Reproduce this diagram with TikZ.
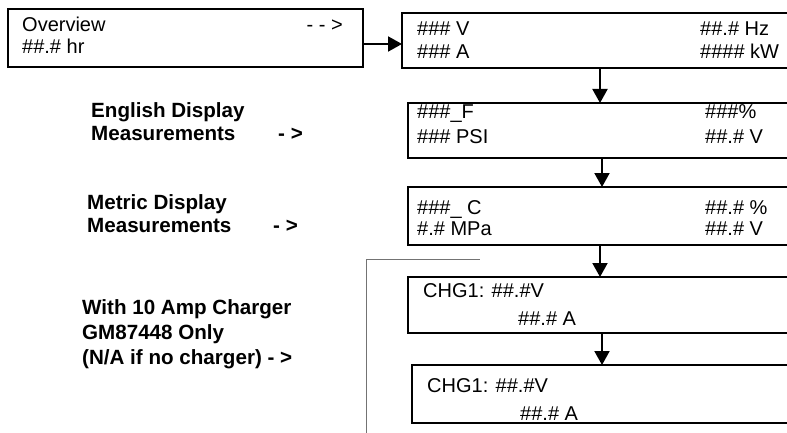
\documentclass[tikz,border=0pt]{standalone}
\usepackage{fontspec}
\setmainfont{Liberation Sans}
\usetikzlibrary{arrows.meta}
\tikzset{
  screen/.style={draw, line width=2pt, inner sep=0pt, outer sep=0pt, anchor=north west, minimum width=#1},
  screen/.default=420pt,
  txt/.style={inner sep=0pt, anchor=base west, font=\fontsize{20}{24}\selectfont},
  txtr/.style={txt, anchor=base east},
  lbl/.style={inner sep=0pt, anchor=base west, font=\fontsize{20.6}{24}\selectfont\bfseries},
  flow/.style={line width=2pt, -{Triangle[length=14pt,width=15pt]}},
  guide/.style={draw=black!55, line width=1pt}
}
\begin{document}
\begin{tikzpicture}[x=1pt,y=-1pt]
\useasboundingbox (0,0) rectangle (787,433);
\clip (0,0) rectangle (787,433);
\fill[white] (0,0) rectangle (787,433);
% boxes
\node[screen=355pt, minimum height=58pt] (b1) at (8,9) {};
\node[screen, minimum height=55pt] (b2) at (402,13) {};
\node[screen, minimum height=55pt] (b3) at (408,103) {};
\node[screen, minimum height=58pt] (b4) at (408,187) {};
\node[screen, minimum height=56pt] (b5) at (408,277) {};
\node[screen, minimum height=58pt] (b6) at (412,365) {};
% texts in boxes
\node[txt] (t1a) at (22,32) {Overview};
\node[txtr] (t1b) at (343,32) {- - >};
\node[txt] (t1c) at (22,54) {\#\#.\# hr};
\node[txt] (t2a) at (417,36) {\#\#\# V};
\node[txt] (t2b) at (417,59) {\#\#\# A};
\node[txt] (t2c) at (700,36) {\#\#.\# Hz};
\node[txt] (t2d) at (700,59) {\#\#\#\# kW};
\node[txt] (t3a) at (417,119) {\#\#\#\_F};
\node[txt] (t3b) at (417,144) {\#\#\# PSI};
\node[txt] (t3c) at (705,119) {\#\#\#\%};
\node[txt] (t3d) at (705,144) {\#\#.\# V};
\node[txt] (t4a) at (417,214) {\#\#\#\_ C};
\node[txt] (t4b) at (417,235) {\#.\# MPa};
\node[txt] (t4c) at (705,214) {\#\#.\# \%};
\node[txt] (t4d) at (705,235) {\#\#.\# V};
\node[txt] (t5a) at (423,297) {CHG1: \#\#.\#V};
\node[txt] (t5b) at (518,325) {\#\#.\# A};
\node[txt] (t6a) at (427,392) {CHG1: \#\#.\#V};
\node[txt] (t6b) at (520,420) {\#\#.\# A};
% left labels
\node[lbl] (e1) at (91,118) {English Display};
\node[lbl] (e2) at (91,141) {Measurements};
\node[lbl] (e3) at (278,141) {- >};
\node[lbl] (m1) at (87,209) {Metric Display};
\node[lbl] (m2) at (87,232) {Measurements};
\node[lbl] (m3) at (273,232) {- >};
\node[lbl] (c1) at (82,314) {With 10 Amp Charger};
\node[lbl] (c2) at (82,339) {GM87448 Only};
\node[lbl] (c3) at (82,364) {(N/A if no charger) - >};
% connectors
\coordinate (h) at (0,44);
\coordinate (xa) at (600,0);
\coordinate (xb) at (602,0);
\draw[flow] (b1.east |- h) -- (b2.west |- h);
\draw[flow] (b2.south -| xa) -- (b3.north -| xa);
\draw[flow] (b3.south -| xb) -- (b4.north -| xb);
\draw[flow] (b4.south -| xa) -- (b5.north -| xa);
\draw[flow] (b5.south -| xb) -- (b6.north -| xb);
% thin guide line
\draw[guide] (366,440) -- (366,259) -- (480,259);
\end{tikzpicture}
\end{document}
